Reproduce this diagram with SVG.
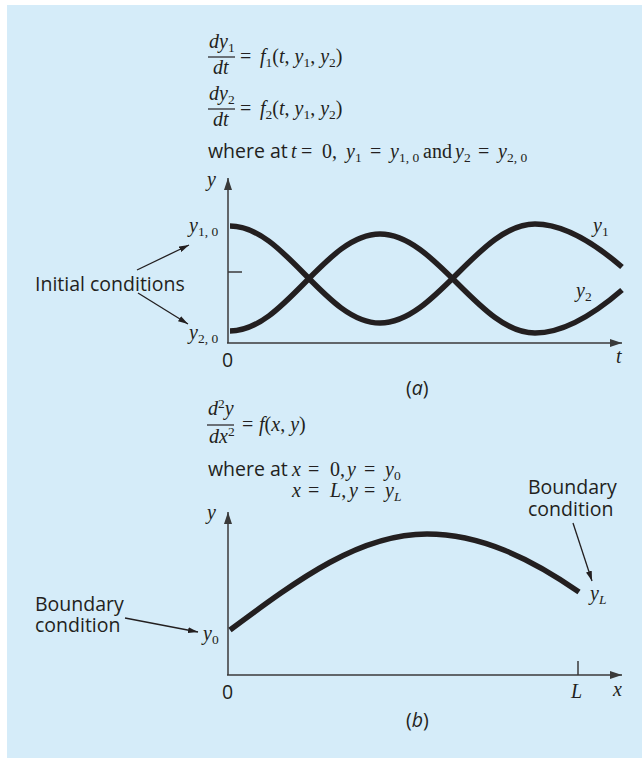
<svg xmlns="http://www.w3.org/2000/svg" width="642" height="758" viewBox="0 0 642 758">
<style>
.bg{fill:#d5ecf9}
.m{font-family:"Liberation Serif","Times New Roman",serif;font-size:20px;fill:#231f20}
.i{font-style:italic}
.s{font-size:13.5px}
.t{font-family:"Open Sans","Liberation Sans",sans-serif;font-size:19.5px;fill:#231f20}
.ax{stroke:#3a3a3a;stroke-width:1.5;fill:none}
.cv{stroke:#231f20;stroke-width:5.5;fill:none}
.ar{stroke:#231f20;stroke-width:1.3;fill:none}
.bar{stroke:#231f20;stroke-width:1.2}
</style>
<defs>
<marker id="ah" viewBox="0 0 10 6" refX="10" refY="3" markerWidth="10" markerHeight="6" markerUnits="userSpaceOnUse" orient="auto"><path d="M0,0 L10,3 L0,6 Z" fill="#231f20"/></marker>
<marker id="axh" viewBox="0 0 12 8" refX="12" refY="4" markerWidth="12" markerHeight="8" markerUnits="userSpaceOnUse" orient="auto"><path d="M0,0 L12,4 L0,8 Z" fill="#3a3a3a"/></marker>
</defs>
<rect class="bg" x="7" y="5" width="635" height="753"/>

<g id="equations-a">
<text class="m" x="209" y="48"><tspan class="i">dy</tspan><tspan class="s" dy="4">1</tspan></text>
<line class="bar" x1="208" y1="57" x2="235" y2="57"/>
<text class="m i" x="213" y="74">dt</text>
<text class="m" x="240" y="63">= <tspan class="i" x="260">f</tspan><tspan class="s" dy="4">1</tspan><tspan dy="-4">(</tspan><tspan class="i">t</tspan>, <tspan class="i">y</tspan><tspan class="s" dy="4">1</tspan><tspan dy="-4">, </tspan><tspan class="i">y</tspan><tspan class="s" dy="4">2</tspan><tspan dy="-4">)</tspan></text>
<text class="m" x="209" y="100"><tspan class="i">dy</tspan><tspan class="s" dy="4">2</tspan></text>
<line class="bar" x1="208" y1="109" x2="235" y2="109"/>
<text class="m i" x="213" y="126">dt</text>
<text class="m" x="240" y="115">= <tspan class="i" x="260">f</tspan><tspan class="s" dy="4">2</tspan><tspan dy="-4">(</tspan><tspan class="i">t</tspan>, <tspan class="i">y</tspan><tspan class="s" dy="4">1</tspan><tspan dy="-4">, </tspan><tspan class="i">y</tspan><tspan class="s" dy="4">2</tspan><tspan dy="-4">)</tspan></text>
<text class="t" x="208" y="158">where at</text>
<text class="m" y="158"><tspan class="i" x="291">t</tspan><tspan x="301">=</tspan><tspan x="322">0,</tspan><tspan class="i" x="346">y</tspan><tspan class="s" dy="4">1</tspan><tspan x="370" dy="-4">=</tspan><tspan class="i" x="390">y</tspan><tspan class="s" dy="4">1, 0</tspan><tspan x="423" dy="-4">and</tspan><tspan class="i" x="455">y</tspan><tspan class="s" dy="4">2</tspan><tspan x="478" dy="-4">=</tspan><tspan class="i" x="498">y</tspan><tspan class="s" dy="4">2, 0</tspan></text>
</g>

<g id="axes-a">
<line class="ax" x1="228" y1="343" x2="228" y2="178" marker-end="url(#axh)"/>
<line class="ax" x1="227" y1="343" x2="622" y2="343" marker-end="url(#axh)"/>
<line class="ax" x1="228" y1="272" x2="242" y2="272"/>
<text class="m i" x="207" y="186">y</text>
<text class="t" x="222" y="367">0</text>
<text class="m i" x="616" y="363">t</text>
<text class="t" x="406" y="395">(<tspan font-style="italic">a</tspan>)</text>
</g>

<g id="curve-y1">
<path class="cv" d="M230,226 C285,226 325,323 380,323 C436,323 479,224 535,224 C567,224 600,248 622,267"/>
<text class="m" x="593" y="232"><tspan class="i">y</tspan><tspan class="s" dy="4">1</tspan></text>
</g>
<g id="curve-y2">
<path class="cv" d="M230,331 C285,331 325,234 380,234 C436,234 479,333 535,333 C567,333 600,309 622,290"/>
<text class="m" x="576" y="297"><tspan class="i">y</tspan><tspan class="s" dy="4">2</tspan></text>
</g>

<g id="initial-conditions">
<text class="t" x="35" y="291">Initial conditions</text>
<text class="m" x="189" y="232"><tspan class="i">y</tspan><tspan class="s" dy="4">1, 0</tspan></text>
<text class="m" x="189" y="339"><tspan class="i">y</tspan><tspan class="s" dy="4">2, 0</tspan></text>
</g>

<g id="equations-b">
<text class="m" x="208" y="415"><tspan class="i">d</tspan><tspan class="s" dy="-7">2</tspan><tspan class="i" dy="7">y</tspan></text>
<line class="bar" x1="207" y1="425" x2="234" y2="425"/>
<text class="m" x="209" y="443"><tspan class="i">dx</tspan><tspan class="s" dy="-7">2</tspan></text>
<text class="m" x="242" y="431">= <tspan class="i" x="259">f</tspan>(<tspan class="i">x</tspan>, <tspan class="i">y</tspan>)</text>
<text class="t" x="208" y="476">where at</text>
<text class="m" y="476"><tspan class="i" x="292">x</tspan><tspan x="308">=</tspan><tspan x="330">0,</tspan><tspan class="i" x="347">y</tspan><tspan x="364">=</tspan><tspan class="i" x="385">y</tspan><tspan class="s" dy="4">0</tspan></text>
<text class="m" y="497"><tspan class="i" x="292">x</tspan><tspan x="308">=</tspan><tspan class="i" x="330">L</tspan>,<tspan class="i" x="349">y</tspan><tspan x="364">=</tspan><tspan class="i" x="385">y</tspan><tspan class="s i" dy="4">L</tspan></text>
</g>

<g id="axes-b">
<line class="ax" x1="228" y1="675" x2="228" y2="512" marker-end="url(#axh)"/>
<line class="ax" x1="227" y1="675" x2="622" y2="675" marker-end="url(#axh)"/>
<line class="ax" x1="578" y1="661" x2="578" y2="675"/>
<text class="m i" x="207" y="519">y</text>
<text class="t" x="222" y="699">0</text>
<text class="m i" x="571" y="698">L</text>
<text class="m i" x="613" y="696">x</text>
<text class="t" x="406" y="727">(<tspan font-style="italic">b</tspan>)</text>
</g>

<g id="curve-b">
<path class="cv" d="M230,630 C300,578 360,534 427,534 C480,534 530,558 579,592"/>
</g>

<g id="boundary-left">
<text class="t" x="35" y="611">Boundary</text>
<text class="t" x="35" y="632">condition</text>
<text class="m" x="203" y="640"><tspan class="i">y</tspan><tspan class="s" dy="4">0</tspan></text>
</g>
<g id="boundary-right">
<text class="t" x="528" y="494">Boundary</text>
<text class="t" x="528" y="516">condition</text>
<text class="m" x="590" y="600"><tspan class="i">y</tspan><tspan class="s i" dy="4">L</tspan></text>
</g>

<g id="connectors">
<line class="ar" x1="137" y1="270" x2="189" y2="245" marker-end="url(#ah)"/>
<line class="ar" x1="138" y1="293" x2="188" y2="324" marker-end="url(#ah)"/>
<line class="ar" x1="125" y1="618" x2="198" y2="632" marker-end="url(#ah)"/>
<line class="ar" x1="573" y1="523" x2="592" y2="581" marker-end="url(#ah)"/>
</g>
</svg>
